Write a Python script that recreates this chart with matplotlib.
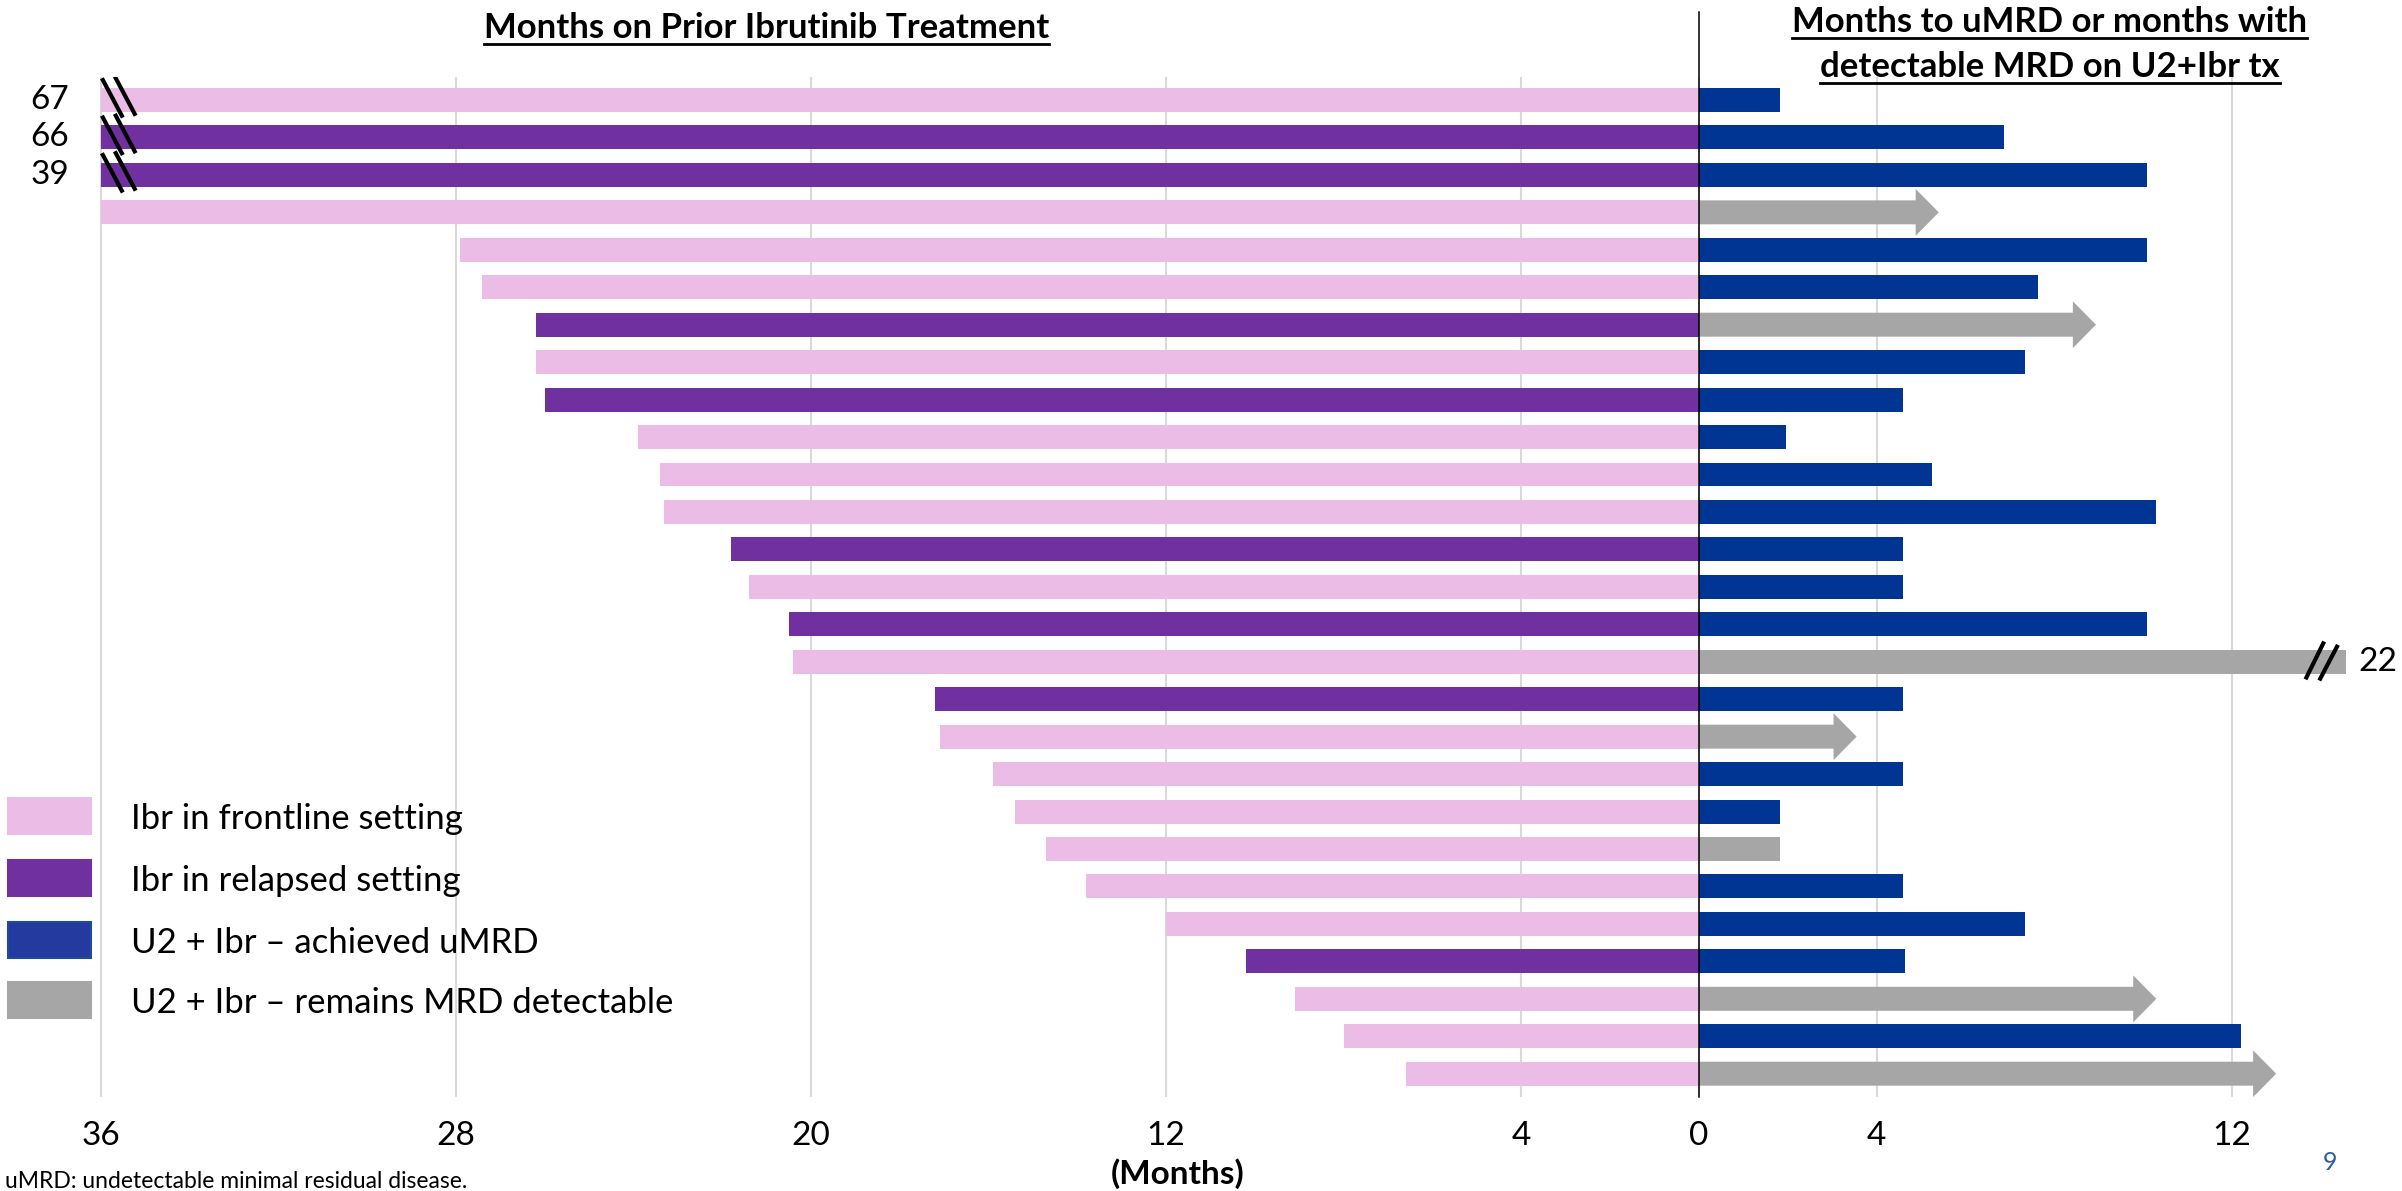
import matplotlib
matplotlib.use('Agg')
import matplotlib.pyplot as plt
from matplotlib import font_manager
from matplotlib.patches import Rectangle
from matplotlib.lines import Line2D
import numpy as np

# one row per patient, top to bottom
prior_months = [67, 66, 39, 36, 27.9, 27.4, 26.2, 26.2, 26.0, 23.9, 23.4, 23.3, 21.8, 21.4,
                20.5, 20.4, 17.2, 17.1, 15.9, 15.4, 14.7, 13.8, 12.0, 10.2, 9.1, 8.0, 6.6]
prior_setting = ['F', 'R', 'R', 'F', 'F', 'F', 'R', 'F', 'R', 'F', 'F', 'F', 'R', 'F',
                 'R', 'F', 'R', 'F', 'F', 'F', 'F', 'F', 'F', 'R', 'F', 'F', 'F']
u2_months = [1.83, 6.87, 10.1, 5.4, 10.1, 7.64, 8.94, 7.35, 4.6, 1.97, 5.24, 10.3, 4.6, 4.6,
             10.1, 22, 4.6, 3.55, 4.6, 1.83, 1.83, 4.6, 7.35, 4.63, 10.3, 12.2, 13.0]
u2_status = ['u', 'u', 'u', 'd', 'u', 'u', 'd', 'u', 'u', 'u', 'u', 'u', 'u', 'u',
             'u', 'd', 'u', 'd', 'u', 'u', 'd', 'u', 'u', 'u', 'd', 'u', 'd']
u2_ongoing = [0, 0, 0, 1, 0, 0, 1, 0, 0, 0, 0, 0, 0, 0,
              0, 0, 0, 1, 0, 0, 0, 0, 0, 0, 1, 0, 1]

tick_pos = [-36, -28, -20, -12, -4, 0, 4, 12]
tick_labels = ['36', '28', '20', '12', '4', '0', '4', '12']

legend_labels = ['Ibr in frontline setting', 'Ibr in relapsed setting',
                 'U2 + Ibr \u2013 achieved uMRD', 'U2 + Ibr \u2013 remains MRD detectable']

PINK = '#EBBDE6'
PURPLE = '#7030A0'
BLUE = '#003594'
GRAY = '#A6A6A6'

names = {f.name for f in font_manager.fontManager.ttflist}
base_font = 'Liberation Sans Narrow' if 'Liberation Sans Narrow' in names else 'Lato'
plt.rcParams['font.family'] = [base_font, 'DejaVu Sans']

W, H = 2402, 1191
ZERO_PX = 1699.0
PX_PER_MONTH = 44.4
ROW0_PX = 100.0
ROW_PITCH = 37.45
LEFT_CAP = 36
RIGHT_CAP = 14.57


def fx(x):
    return x / W


def fy(y):
    return 1 - y / H


fig = plt.figure(figsize=(W / 100, H / 100), dpi=100)
ax_top_px, ax_bot_px = 77, 1097
ax = fig.add_axes([0, fy(ax_bot_px), 1, (ax_bot_px - ax_top_px) / H])
ax.set_xlim(-ZERO_PX / PX_PER_MONTH, (W - ZERO_PX) / PX_PER_MONTH)
ax.set_ylim((ax_bot_px - ROW0_PX) / ROW_PITCH, (ax_top_px - ROW0_PX) / ROW_PITCH)

rows = np.arange(len(prior_months))
prior = np.array(prior_months)
u2 = np.array(u2_months)

# left side: months on prior ibrutinib
left_colors = [PINK if s == 'F' else PURPLE for s in prior_setting]
ax.barh(rows, -np.minimum(prior, LEFT_CAP), height=0.64, color=left_colors, zorder=2)

# right side: U2 + Ibr
for i in rows:
    col = BLUE if u2_status[i] == 'u' else GRAY
    v = min(u2[i], RIGHT_CAP)
    if u2_ongoing[i]:
        ax.arrow(0, i, v, 0, width=0.64, head_width=1.25, head_length=0.52,
                 length_includes_head=True, color=col, lw=0, zorder=2)
    else:
        ax.barh(i, v, height=0.64, color=col, zorder=2)

# axis breaks
for i in rows:
    if prior[i] > LEFT_CAP:
        ax.plot([-35.97, -35.5], [i - 0.58, i + 0.47], color='black', lw=3,
                solid_capstyle='butt', zorder=4)
        ax.plot([-35.68, -35.21], [i - 0.63, i + 0.42], color='black', lw=3,
                solid_capstyle='butt', zorder=4)
        ax.text(-37.15, i, f'{prior[i]:.0f}', ha='center', va='center', fontsize=24)
    if u2[i] > RIGHT_CAP:
        ax.plot([13.66, 14.08], [i + 0.47, i - 0.54], color='black', lw=3,
                solid_capstyle='butt', zorder=4)
        ax.plot([13.97, 14.39], [i + 0.5, i - 0.45], color='black', lw=3,
                solid_capstyle='butt', zorder=4)
        ax.text(14.85, i, f'{u2[i]:.0f}', ha='left', va='center', fontsize=24)

ax.plot([0, 0], [(12 - ROW0_PX) / ROW_PITCH, (ax_bot_px - ROW0_PX) / ROW_PITCH],
        color='black', lw=1.1, clip_on=False, zorder=5)

ax.set_xticks(tick_pos)
ax.set_xticklabels(tick_labels, fontsize=24)
ax.tick_params(axis='x', length=0, pad=17)
ax.set_yticks([])
ax.grid(axis='x', color='#D9D9D9', lw=1.5)
ax.set_axisbelow(True)
for s in ax.spines.values():
    s.set_visible(False)
ax.patch.set_alpha(0)

# headers
titles = []
titles.append((fig.text(fx(ZERO_PX - 21.0 * PX_PER_MONTH), fy(38), 'Months on Prior Ibrutinib Treatment',
                        ha='center', va='baseline', fontsize=25, fontweight='bold'), 44))
titles.append((fig.text(fx(ZERO_PX + 7.9 * PX_PER_MONTH), fy(32), 'Months to uMRD or months with',
                        ha='center', va='baseline', fontsize=25, fontweight='bold'), 38))
titles.append((fig.text(fx(ZERO_PX + 7.9 * PX_PER_MONTH), fy(77), 'detectable MRD on U2+Ibr tx',
                        ha='center', va='baseline', fontsize=25, fontweight='bold'), 83))

# legend
legend_faces = [PINK, PURPLE, '#253A9F', GRAY]
legend_edges = [PINK, PURPLE, '#1E4B9B', GRAY]
legend_y = [816, 878, 940, 1000]
for lab, fc, ec, yc in zip(legend_labels, legend_faces, legend_edges, legend_y):
    fig.patches.append(Rectangle((fx(8), fy(yc + 18)), 83 / W, 36 / H, transform=fig.transFigure,
                                 facecolor=fc, edgecolor=ec, lw=1.5))
    fig.text(fx(131), fy(yc + 13), lab, ha='left', va='baseline', fontsize=25)

fig.text(fx(1178), fy(1174), '(Months)', ha='center', va='center', fontsize=24, fontweight='bold')
fig.text(fx(2330), fy(1163), '9', ha='center', va='center', fontsize=18, color='#2E5C9E')
fig.text(fx(5), fy(1181), 'uMRD: undetectable minimal residual disease.', ha='left', va='center',
         fontsize=16.5)

fig.canvas.draw()
renderer = fig.canvas.get_renderer()
for t, ul in titles:
    bb = t.get_window_extent(renderer)
    fig.add_artist(Line2D([bb.x0 / W, bb.x1 / W], [fy(ul), fy(ul)], transform=fig.transFigure,
                          color='black', lw=2))

fig.savefig('out.png', dpi=100)
